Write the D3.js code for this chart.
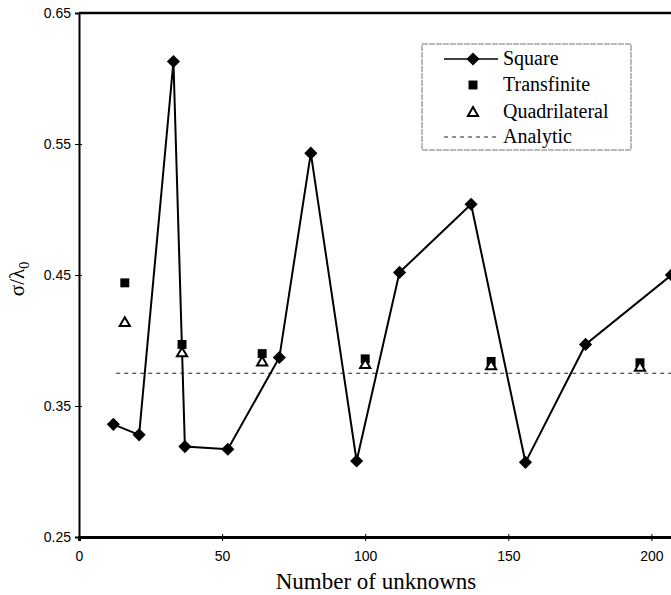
<!DOCTYPE html>
<html>
<head>
<meta charset="utf-8">
<script src="https://cdn.jsdelivr.net/npm/d3@7"></script>
<style>
  body { margin: 0; background: #fff; }
  svg { display: block; }
</style>
</head>
<body>
<svg id="chart" width="671" height="595"></svg>
<script>
// Data
const squareX = [12, 21, 33, 37, 52, 70, 81, 97, 112, 137, 156, 177, 207]
const squareY = [0.336, 0.328, 0.613, 0.319, 0.317, 0.387, 0.543, 0.308, 0.452, 0.504, 0.307, 0.397, 0.450]
const transX = [16, 36, 64, 100, 144, 196]
const transY = [0.444, 0.397, 0.390, 0.386, 0.384, 0.383]
const quadX = [16, 36, 64, 100, 144, 196]
const quadY = [0.414, 0.391, 0.384, 0.382, 0.381, 0.380]
const analyticX = [13, 250]
const analyticY = [0.375, 0.375]
const xTicks = [0, 50, 100, 150, 200]
const yTicks = [0.25, 0.35, 0.45, 0.55, 0.65]
const legendItems = ['Square', 'Transfinite', 'Quadrilateral', 'Analytic']

const svg = d3.select('#chart')

// Plot continues past the right edge of the window
const x = d3.scaleLinear().domain([0, 250]).range([79, 79 + 250 * 2.862])
const y = d3.scaleLinear().domain([0.25, 0.65]).range([537, 13])

const serif = '"Liberation Serif", "Times New Roman", serif'
const sans = '"Liberation Sans", Arial, sans-serif'

// Frame
svg.append('line')
    .attr('x1', x(0)).attr('x2', x(250))
    .attr('y1', y(0.65)).attr('y2', y(0.65))
    .attr('stroke', '#000').attr('stroke-width', 2.5)

// Axes
const yAxis = svg.append('g')
    .attr('transform', `translate(${x(0)},0)`)
    .call(d3.axisLeft(y).tickValues(yTicks).tickFormat(d3.format('.2f')).tickSize(4).tickPadding(4))
yAxis.select('.domain').attr('stroke-width', 2)
yAxis.selectAll('.tick line').attr('x2', 3).attr('x1', -4).attr('stroke-width', 1)
yAxis.selectAll('text').style('font-family', sans).style('font-size', '14px').style('fill', '#000')

const xAxis = svg.append('g')
    .attr('transform', `translate(0,${y(0.25)})`)
    .call(d3.axisBottom(x).tickValues(xTicks).tickSize(4).tickPadding(10))
xAxis.select('.domain').attr('stroke-width', 3)
xAxis.selectAll('.tick line').attr('y1', -3).attr('y2', 4).attr('stroke-width', 1)
xAxis.selectAll('text').style('font-family', sans).style('font-size', '14px').style('fill', '#000')

// Axis titles
svg.append('text')
    .attr('x', 376).attr('y', 589)
    .attr('text-anchor', 'middle')
    .style('font-family', serif).style('font-size', '23px')
    .text('Number of unknowns')

const yl = svg.append('text')
    .attr('transform', 'translate(24,279) rotate(-90)')
    .attr('text-anchor', 'middle')
    .style('font-family', serif).style('font-size', '21px')
yl.append('tspan').text('σ/λ')
yl.append('tspan').attr('dy', 5).style('font-size', '14px').text('0')

// Analytic dashed line
const line = d3.line().x(d => x(d[0])).y(d => y(d[1]))
svg.append('path')
    .datum(d3.zip(analyticX, analyticY))
    .attr('d', line)
    .attr('fill', 'none').attr('stroke', '#222').attr('stroke-width', 1)
    .attr('stroke-dasharray', '4,4')

// Square series
const squareData = d3.zip(squareX, squareY)
svg.append('path')
    .datum(squareData)
    .attr('d', line)
    .attr('fill', 'none').attr('stroke', '#000').attr('stroke-width', 2)

const diamond = d3.symbol().type(d3.symbolDiamond2).size(110)
svg.append('g').selectAll('path')
    .data(squareData)
    .join('path')
    .attr('transform', d => `translate(${x(d[0])},${y(d[1])})`)
    .attr('d', diamond)
    .attr('fill', '#000')

// Transfinite
const sq = d3.symbol().type(d3.symbolSquare).size(80)
svg.append('g').selectAll('path')
    .data(d3.zip(transX, transY))
    .join('path')
    .attr('transform', d => `translate(${x(d[0])},${y(d[1])})`)
    .attr('d', sq)
    .attr('fill', '#000')

// Quadrilateral
const tri = d3.symbol().type(d3.symbolTriangle).size(45)
svg.append('g').selectAll('path')
    .data(d3.zip(quadX, quadY))
    .join('path')
    .attr('transform', d => `translate(${x(d[0])},${y(d[1]) + 1})`)
    .attr('d', tri)
    .attr('fill', '#fff').attr('stroke', '#000').attr('stroke-width', 2)

// Legend
const lg = svg.append('g').attr('transform', 'translate(422,44)')
lg.append('rect')
    .attr('width', 209).attr('height', 106)
    .attr('fill', '#fff').attr('stroke', '#777').attr('stroke-width', 1)
    .attr('stroke-dasharray', '6,1')
const rowY = [15, 41, 68, 93]
legendItems.forEach((name, i) => {
    const g = lg.append('g').attr('transform', `translate(0,${rowY[i]})`)
    if (i === 0) {
        g.append('line').attr('x1', 22).attr('x2', 76).attr('stroke', '#000').attr('stroke-width', 1.5)
        g.append('path').attr('transform', 'translate(51,0)').attr('d', diamond).attr('fill', '#000')
    } else if (i === 1) {
        g.append('path').attr('transform', 'translate(51,0)').attr('d', sq).attr('fill', '#000')
    } else if (i === 2) {
        g.append('path').attr('transform', 'translate(51,1)').attr('d', tri)
            .attr('fill', '#fff').attr('stroke', '#000').attr('stroke-width', 2)
    } else {
        g.append('line').attr('x1', 22).attr('x2', 76).attr('stroke', '#222').attr('stroke-width', 1)
            .attr('stroke-dasharray', '4,4')
    }
    g.append('text')
        .attr('x', 81).attr('y', 6)
        .style('font-family', serif).style('font-size', '20px')
        .text(name)
})
</script>
</body>
</html>
